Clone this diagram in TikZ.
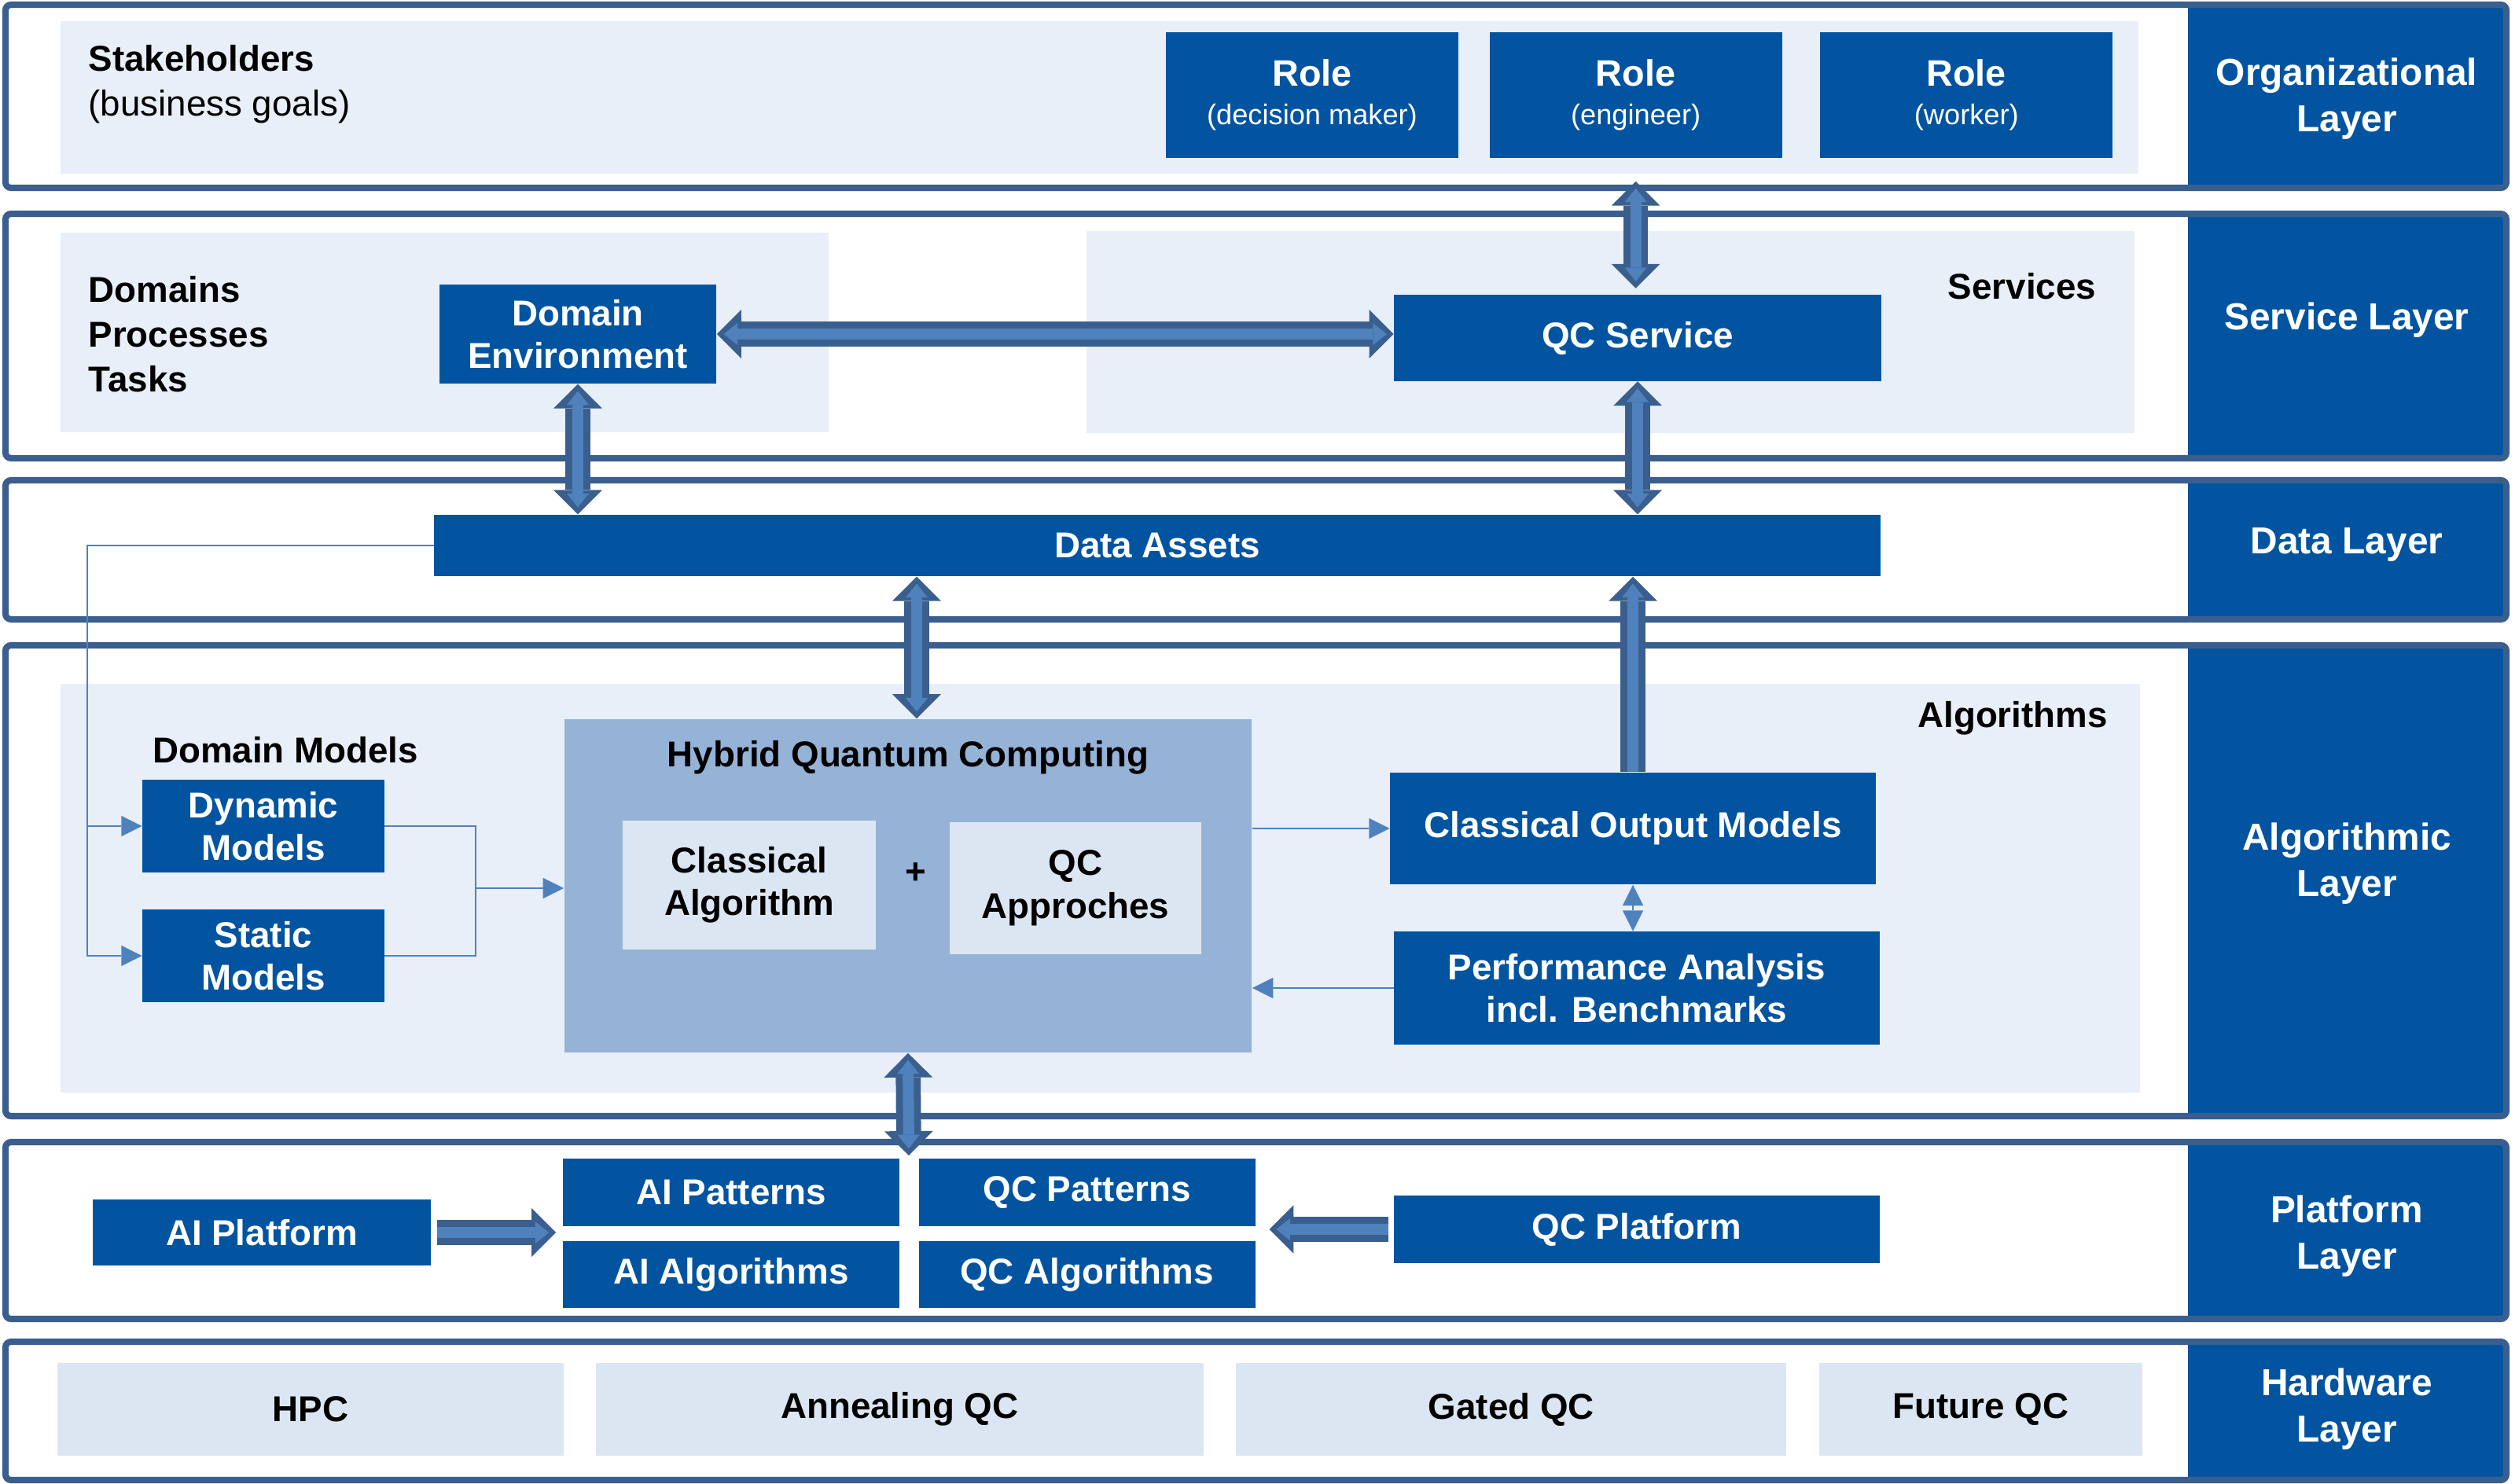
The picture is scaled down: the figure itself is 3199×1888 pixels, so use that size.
\documentclass[tikz,border=0pt]{standalone}
\usepackage{fontspec}
\setmainfont{Liberation Sans}
\usetikzlibrary{arrows.meta}
\usetikzlibrary{positioning}

\definecolor{qcBlue}{HTML}{0254A0}
\definecolor{qcFrame}{HTML}{3A5F8E}
\definecolor{qcArrow}{HTML}{4F81BD}
\definecolor{qcPanel}{HTML}{E8EFF8}
\definecolor{qcHybrid}{HTML}{95B3D7}
\definecolor{qcPale}{HTML}{DCE6F2}

\newcommand\boxsize{\fontsize{13pt}{15.5pt}\selectfont}
\newcommand\notesize{\fontsize{13pt}{16.3pt}\selectfont}
\newcommand\labelsize{\fontsize{13.6pt}{16.8pt}\selectfont}
\newcommand\subsize{\fontsize{10.3pt}{12pt}\selectfont}

\tikzset{
  bigtip/.tip={Triangle[length=8.8pt,width=17.6pt,line width=0pt]},
  smalltip/.tip={Triangle[length=5pt,width=8pt,line width=0pt]},
  thintip/.tip={Triangle[length=7.5pt,width=7.5pt,line width=0pt]},
}

\begin{document}
\begin{tikzpicture}[x=0.01cm,y=-0.01cm,
    bluebox/.style={fill=qcBlue,text=white,font=\boxsize\bfseries,align=center,inner sep=0pt},
    rolebox/.style={bluebox,font=\fontsize{13.3pt}{14pt}\selectfont\bfseries,minimum width=3.72cm,minimum height=1.60cm},
    palebox/.style={fill=qcPale,text=black,font=\boxsize\bfseries,align=center,inner sep=0pt},
    note/.style={text=black,font=\notesize\bfseries,align=left,inner sep=0pt},
    layerlabel/.style={text=white,font=\labelsize\bfseries,align=center,inner sep=0pt},
    layerframe/.style={draw=qcFrame,line width=2.3pt,rounded corners=2pt},
    panel/.style={fill=qcPanel},
    fat/.style={draw=qcFrame,line width=9pt,-bigtip,
      postaction={draw=qcArrow,line width=4pt,-smalltip,shorten >=2.5pt}},
    fatboth/.style={draw=qcFrame,line width=9pt,bigtip-bigtip,
      postaction={draw=qcArrow,line width=4pt,smalltip-smalltip,shorten >=2.5pt,shorten <=2.5pt}},
    thinline/.style={draw=qcArrow,line width=0.8pt},
    thinarrow/.style={thinline,-thintip},
    thinboth/.style={thinline,thintip-thintip}]
    \useasboundingbox (0,0) rectangle (3199,1888);
    % panels
    \fill[panel] (77,27) rectangle (2720,221);
    \fill[panel] (77,296) rectangle (1054,550);
    \fill[panel] (1382,294) rectangle (2715,551);
    \fill[panel] (77,870) rectangle (2722,1390);
    % layer frames and labels
    \foreach \ytop/\ybot in {6/239,272/583,611/788,821/1420,1453/1678,1707/1883}{
      \fill[qcBlue] (2783,\ytop) rectangle (3188,\ybot);
      \draw[layerframe] (7,\ytop) rectangle (3188,\ybot);
    }
    \node[layerlabel] (orglabel)  at (2985,126)  {Organizational\\Layer};
    \node[layerlabel] (servlabel) at (2985,407)  {Service Layer};
    \node[layerlabel] (datalabel) at (2985,693)  {Data Layer};
    \node[layerlabel] (algolabel) at (2985,1099) {Algorithmic\\Layer};
    \node[layerlabel] (platlabel) at (2985,1573) {Platform\\Layer};
    \node[layerlabel] (hwlabel)   at (2985,1793) {Hardware\\Layer};
    % organizational layer
    \node[note,anchor=west] (stake) at (112,107) {Stakeholders\\{\mdseries (business goals)}};
    \node[rolebox] (role1) at (1669,121)      {Role\\{\subsize\mdseries (decision maker)}};
    \node[rolebox] (role2) [right=0.38cm of role1] {Role\\{\subsize\mdseries (engineer)}};
    \node[rolebox] (role3) [right=0.47cm of role2] {Role\\{\subsize\mdseries (worker)}};
    % service layer
    \node[note,anchor=west] (domains) at (112,425) {Domains\\Processes\\Tasks};
    \node[bluebox,minimum width=3.52cm,minimum height=1.26cm] (dom) at (735,425) {Domain\\Environment};
    \node[bluebox,minimum width=6.19cm,minimum height=1.09cm] (qcs) at (2083,430) {QC Service};
    \node[note] (services) at (2572,364) {Services};
    % data layer
    \node[bluebox,minimum width=18.38cm,minimum height=0.78cm] (data) at (1472,694) {Data Assets};
    % algorithmic layer
    \node[note] (algos)  at (2560,914) {Algorithms};
    \node[note] (dommod) at (363,954)  {Domain Models};
    \node[bluebox,minimum width=3.07cm,minimum height=1.18cm] (dyn) at (335,1051) {Dynamic\\Models};
    \node[bluebox,minimum width=3.07cm,minimum height=1.17cm] (sta) [below=0.46cm of dyn] {Static\\Models};
    \node[fill=qcHybrid,minimum width=8.74cm,minimum height=4.24cm] (hqc) at (1155,1127) {};
    \node[note] (hqctitle) at (1155,964) {Hybrid Quantum Computing};
    \node[palebox,minimum width=3.22cm,minimum height=1.63cm] (classic) at (953,1126) {Classical\\Algorithm};
    \node[note] (plus) at (1165,1111) {+};
    \node[palebox,minimum width=3.20cm,minimum height=1.67cm] (qcappr) at (1368,1130) {QC\\Approches};
    \node[bluebox,minimum width=6.17cm,minimum height=1.42cm] (com)  at (2077,1054) {Classical Output Models};
    \node[bluebox,minimum width=6.17cm,minimum height=1.43cm] (perf) at (2082,1257) {Performance Analysis\\incl. Benchmarks};
    % platform layer
    \node[bluebox,minimum width=4.30cm,minimum height=0.83cm] (aiplat) at (333,1568) {AI Platform};
    \node[bluebox,minimum width=4.28cm,minimum height=0.85cm] (aipat) at (930,1517) {AI Patterns};
    \node[bluebox,minimum width=4.28cm,minimum height=0.85cm] (qcpat) [right=0.23cm of aipat] {QC Patterns};
    \node[bluebox,minimum width=4.28cm,minimum height=0.85cm] (aialg) [below=0.18cm of aipat] {AI Algorithms};
    \node[bluebox,minimum width=4.28cm,minimum height=0.85cm] (qcalg) [below=0.18cm of qcpat] {QC Algorithms};
    \node[bluebox,minimum width=6.18cm,minimum height=0.85cm] (qcplat) at (2082,1564) {QC Platform};
    % hardware layer
    \node[palebox,minimum width=6.43cm,minimum height=1.17cm] (hpc) at (395,1793) {HPC};
    \node[palebox,minimum width=7.72cm,minimum height=1.17cm] (anneal) [right=0.40cm of hpc]    {Annealing QC};
    \node[palebox,minimum width=7.00cm,minimum height=1.17cm] (gated)  [right=0.40cm of anneal] {Gated QC};
    \node[palebox,minimum width=4.11cm,minimum height=1.17cm] (future) [right=0.40cm of gated]  {Future QC};
    % thin connectors
    \coordinate (feed)  at (111,694);
    \coordinate (merge) at (605,1130);
    \coordinate (patgap) at (1156,1470);
    \draw[thinarrow] (data.west) -- (feed) |- (dyn.west);
    \draw[thinarrow] (feed) |- (sta.west);
    \draw[thinline] (dyn.east) -| (merge);
    \draw[thinline] (sta.east) -| (merge);
    \draw[thinarrow] (merge) -- (merge -| hqc.west);
    \draw[thinarrow] (hqc.east |- com.west) -- (com.west);
    \draw[thinarrow] (perf.west) -- (perf.west -| hqc.east);
    \draw[thinboth] (com.south) -- (com.south |- perf.north);
    % fat connectors
    \draw[fatboth] ([yshift=-0.29cm]role2.south) -- ([yshift=0.08cm]role2.south |- qcs.north);
    \draw[fatboth] (dom.east) -- (dom.east -| qcs.west);
    \draw[fatboth] (dom.south) -- (dom.south |- data.north);
    \draw[fatboth] (qcs.south) -- (qcs.south |- data.north);
    \draw[fatboth] ([xshift=0.11cm]hqc.north) -- ([xshift=0.11cm]hqc.north |- data.south);
    \draw[fat] (com.north) -- (com.north |- data.south);
    \draw[fatboth] (hqc.south) -- (patgap);
    \draw[fat] ([xshift=0.07cm]aiplat.east) -- ([xshift=-0.08cm]aiplat.east -| aipat.west);
    \draw[fat] ([xshift=-0.06cm]qcplat.west) -- ([xshift=0.17cm]qcplat.west -| qcpat.east);
\end{tikzpicture}
\end{document}
